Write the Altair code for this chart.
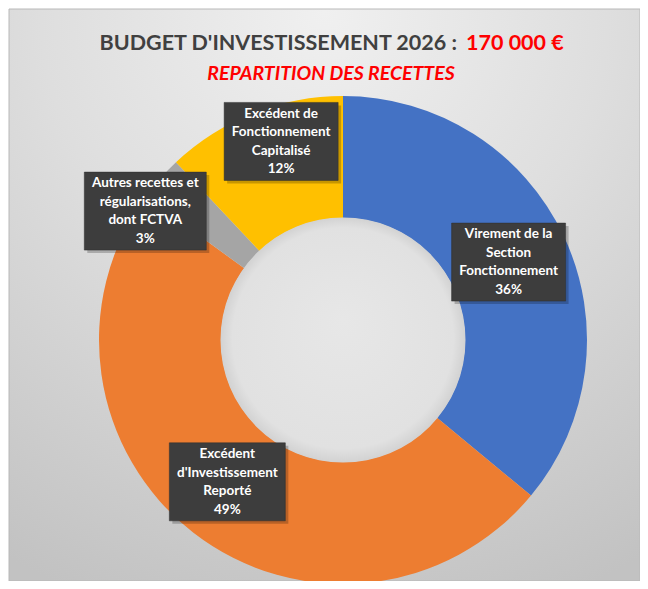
import math
import altair as alt
import pandas as pd

# ---------------- data ----------------
categories = [
    "Virement de la Section Fonctionnement",
    "Excédent d'Investissement Reporté",
    "Autres recettes et régularisations, dont FCTVA",
    "Excédent de Fonctionnement Capitalisé",
]
label_lines = [
    ["Virement de la", "Section", "Fonctionnement"],
    ["Excédent", "d'Investissement", "Reporté"],
    ["Autres recettes et", "régularisations,", "dont FCTVA"],
    ["Excédent de", "Fonctionnement", "Capitalisé"],
]
shares = [36, 49, 3, 12]
slice_order = [0, 1, 2, 3]

title_main = "BUDGET D'INVESTISSEMENT 2026 :"
title_amount = "170 000 €"
subtitle = "REPARTITION DES RECETTES"

# ---------------- style / layout ----------------
colors = ["#4472C4", "#ED7D31", "#A5A5A5", "#FFC000"]
W, H = 632, 573
CX, CY = 335, 332
R_OUT, R_IN = 244, 122
R_LABEL = (R_OUT + R_IN) / 2
# label placement nudges (angle offset in degrees, radius) – like Excel "best fit"
label_nudge_deg = [0, 1.4, -8.3, 4.3]
label_radius = [R_LABEL, R_LABEL, 236, 208]
box_half_w = [57, 58, 61, 57]
BOX_HALF_H = 39
LINE_H = 18.5
N_LINES = 4
FONT = "Lato"

df = pd.DataFrame({
    "cat": categories,
    "share": shares,
    "ord": slice_order,
    "label": ["\n".join(l + [f"{s}%"]) for l, s in zip(label_lines, shares)],
    "nudge": label_nudge_deg,
    "lr": label_radius,
    "bw": box_half_w,
})

base = alt.Chart(df)

one = pd.DataFrame({"a": [0]})

bg = alt.Chart(one).mark_rect(
    fill=alt.RadialGradient(
        gradient="radial",
        x1=0.5, y1=0.05, r1=0.0,
        x2=0.5, y2=0.05, r2=1.0,
        stops=[
            alt.GradientStop(offset=0.0, color="#f0f0f0"),
            alt.GradientStop(offset=0.45, color="#dedede"),
            alt.GradientStop(offset=1.0, color="#c2c2c2"),
        ],
    ),
    stroke="#b8b8b8",
    strokeWidth=1,
).encode(
    x=alt.value(1), x2=alt.value(W), y=alt.value(1), y2=alt.value(H)
)

arcs = base.mark_arc(outerRadius=R_OUT, innerRadius=R_IN, stroke=None).encode(
    theta=alt.Theta("share:Q", stack=True),
    order=alt.Order("ord:Q"),
    color=alt.Color("cat:N", scale=alt.Scale(domain=categories, range=colors), legend=None),
    x=alt.value(CX),
    y=alt.value(CY),
)

hole = alt.Chart(one).mark_circle(
    size=(2 * (R_IN + 0.5)) ** 2,
    opacity=1,
    fill=alt.RadialGradient(
        gradient="radial",
        x1=0.5, y1=0.42, r1=0.0,
        x2=0.5, y2=0.5, r2=0.5,
        stops=[
            alt.GradientStop(offset=0.0, color="#e7e7e7"),
            alt.GradientStop(offset=0.9, color="#e1e1e1"),
            alt.GradientStop(offset=1.0, color="#d2d2d2"),
        ],
    ),
    stroke=None,
).encode(x=alt.value(CX), y=alt.value(CY))

lab = base.transform_joinaggregate(
    total="sum(share)"
).transform_window(
    cum="sum(share)", sort=[alt.SortField("ord")], frame=[None, 0]
).transform_calculate(
    ang="(datum.cum - datum.share/2)/datum.total*2*PI + datum.nudge*PI/180",
).transform_calculate(
    lx=f"{CX} + datum.lr*sin(datum.ang)",
    ly=f"{CY} - datum.lr*cos(datum.ang)",
).transform_calculate(
    x1="datum.lx - datum.bw",
    x2="datum.lx + datum.bw",
    y1=f"datum.ly - {BOX_HALF_H}",
    y2=f"datum.ly + {BOX_HALF_H}",
    sx1="datum.lx - datum.bw + 3",
    sx2="datum.lx + datum.bw + 3",
    sy1=f"datum.ly - {BOX_HALF_H} + 3",
    sy2=f"datum.ly + {BOX_HALF_H} + 3",
    ty=f"datum.ly - {(N_LINES - 1) * LINE_H / 2}",
)

shadow = lab.mark_rect(fill="#000000", opacity=0.22).encode(
    x=alt.X("sx1:Q", scale=None), x2="sx2:Q",
    y=alt.Y("sy1:Q", scale=None), y2="sy2:Q",
)
boxes = lab.mark_rect(fill="#3d3d3d", stroke="#2e2e2e", strokeWidth=0.5).encode(
    x=alt.X("x1:Q", scale=None), x2="x2:Q",
    y=alt.Y("y1:Q", scale=None), y2="y2:Q",
)
texts = lab.mark_text(
    font=FONT, fontSize=13.5, fontWeight="bold", color="white",
    lineBreak="\n", lineHeight=LINE_H, align="center", baseline="middle",
).encode(
    x=alt.X("lx:Q", scale=None),
    y=alt.Y("ty:Q", scale=None),
    text="label:N",
)

t1 = alt.Chart(one).mark_text(
    text=title_main, font=FONT, fontSize=21.5, fontWeight="bold", color="#404040",
    align="right", baseline="alphabetic",
).encode(x=alt.value(449), y=alt.value(42))
t2 = alt.Chart(one).mark_text(
    text=title_amount, font=FONT, fontSize=21.5, fontWeight="bold", color="#ff0000",
    align="left", baseline="alphabetic",
).encode(x=alt.value(458), y=alt.value(42))
t3 = alt.Chart(one).mark_text(
    text=subtitle, font=FONT, fontSize=19.5, fontWeight="bold", fontStyle="italic",
    color="#ff0000", align="center", baseline="alphabetic",
).encode(x=alt.value(323), y=alt.value(72))

chart = alt.layer(bg, arcs, hole, shadow, boxes, texts, t1, t2, t3).properties(
    width=W, height=H,
    autosize=alt.AutoSizeParams(type="none"),
    padding=0,
).configure_view(stroke=None)

chart.save("out.html", embed_options={"renderer": "svg", "actions": False})
